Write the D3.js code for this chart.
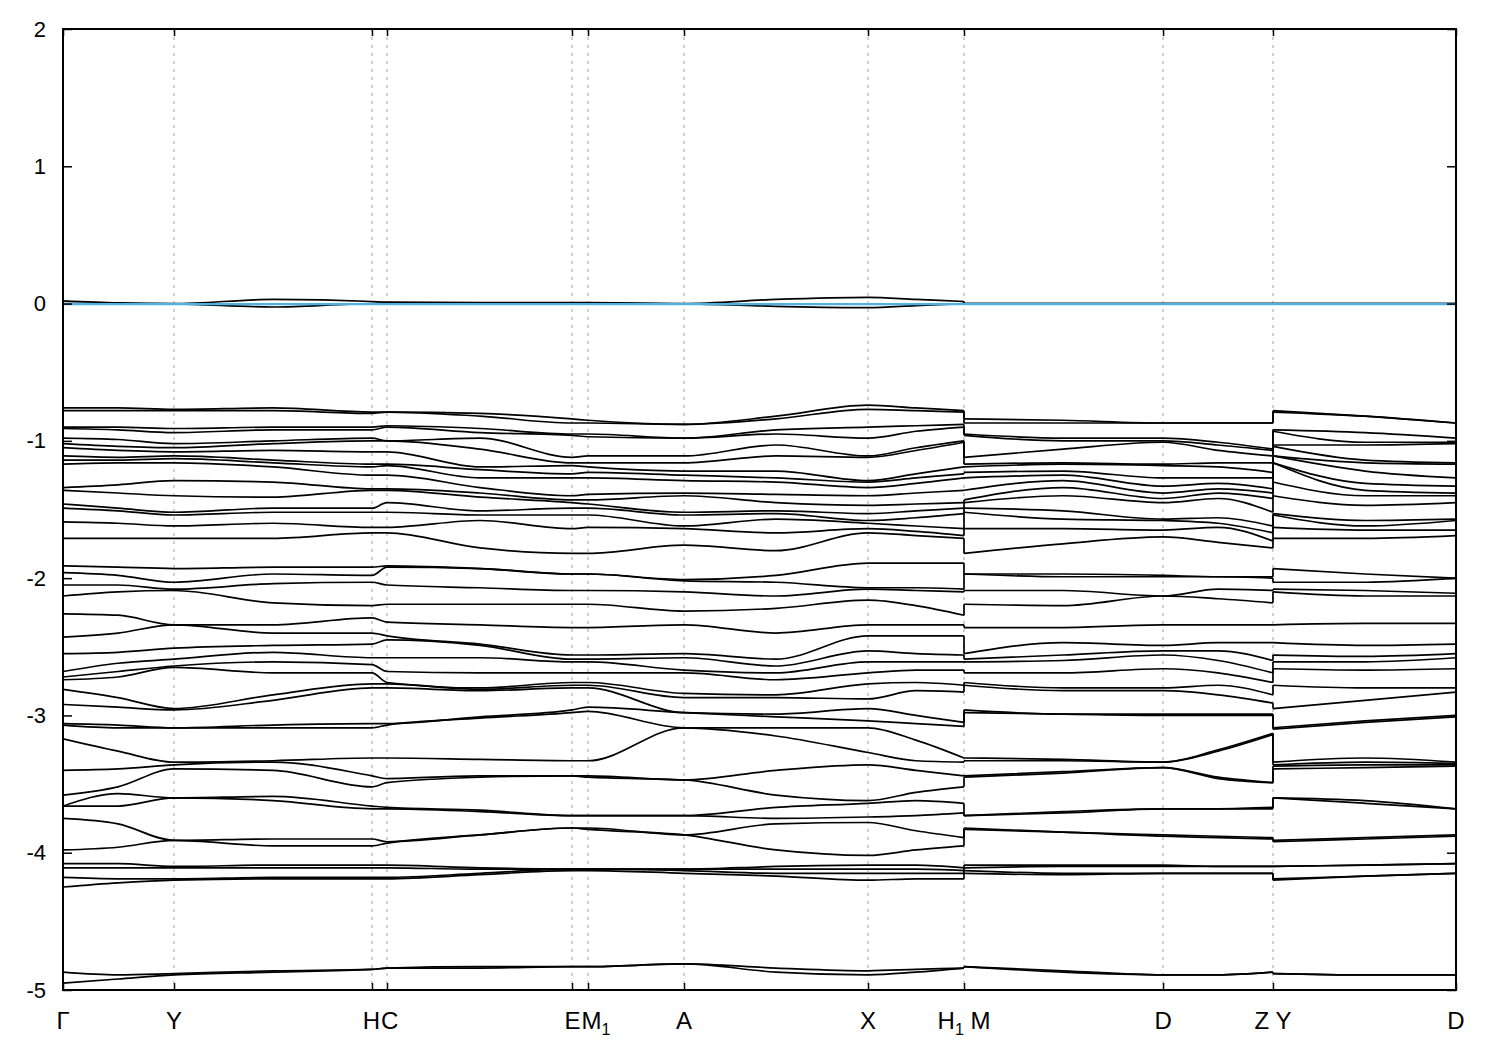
<!DOCTYPE html>
<html><head><meta charset="utf-8">
<script src="https://cdn.jsdelivr.net/npm/d3@7"></script>
<style>
body{margin:0;background:#fff}
svg{display:block}
text{font-family:"Liberation Sans Narrow","Liberation Sans",Arial,sans-serif;fill:#000}
</style>
</head><body>
<svg id="c" width="1500" height="1050"></svg>
<script>
// high-symmetry k-points (path coordinate) and their labels
const kTickPos = [0, 0.0797, 0.2218, 0.2326, 0.3654, 0.3769, 0.4458, 0.5779, 0.6468, 0.7897, 0.8686, 1.0];
const kTickLabels = ["Γ","Y","H","C","E","M_1","A","X","H_1 M","D","Z Y","D"];
// k-path sample positions (22 columns); path is broken after H1 and after Z
const kSample = [0, 0.0395, 0.0797, 0.1508, 0.2218, 0.2326, 0.2994, 0.3654, 0.3769, 0.4458, 0.5118, 0.5779, 0.6123, 0.6468,
                 0.6468, 0.7179, 0.7897, 0.8292, 0.8686,
                 0.8686, 0.9347, 1.0];
const segments = [[0,13],[14,18],[19,21]];
const yTicks = [-5,-4,-3,-2,-1,0,1,2];
const fermiLevel = 0;

// band energies (eV) at each sample column
const eG   = [0.02,0.0,-0.76,-0.78,-0.90,-0.91,-0.98,-1.02,-1.05,-1.11,-1.14,-1.17,-1.34,-1.36,-1.46,-1.49,-1.59,-1.71,-1.91,-1.96,-2.05,-2.13,-2.26,-2.43,-2.55,-2.68,-2.72,-2.74,-2.81,-2.92,-3.06,-3.07,-3.17,-3.40,-3.58,-3.66,-3.66,-3.75,-3.98,-4.08,-4.11,-4.18,-4.25,-4.87,-4.95];
const eGY  = [0.005,0.0,-0.76,-0.78,-0.90,-0.92,-0.99,-1.04,-1.07,-1.12,-1.14,-1.16,-1.32,-1.38,-1.49,-1.51,-1.60,-1.71,-1.92,-1.98,-2.05,-2.10,-2.27,-2.40,-2.54,-2.62,-2.68,-2.72,-2.87,-2.94,-3.07,-3.09,-3.26,-3.39,-3.52,-3.57,-3.66,-3.79,-3.96,-4.08,-4.11,-4.19,-4.22,-4.89,-4.92];
const eY   = [0.0,-0.002,-0.77,-0.78,-0.91,-0.94,-1.02,-1.05,-1.08,-1.11,-1.13,-1.16,-1.29,-1.40,-1.52,-1.54,-1.62,-1.71,-1.93,-2.03,-2.08,-2.09,-2.34,-2.34,-2.51,-2.59,-2.64,-2.65,-2.95,-2.96,-3.09,-3.09,-3.34,-3.36,-3.39,-3.60,-3.60,-3.91,-3.91,-4.10,-4.11,-4.19,-4.20,-4.88,-4.89];
const eYH  = [0.03,-0.025,-0.76,-0.78,-0.90,-0.92,-1.00,-1.02,-1.07,-1.14,-1.16,-1.19,-1.30,-1.41,-1.49,-1.52,-1.60,-1.71,-1.92,-1.97,-2.04,-2.18,-2.34,-2.40,-2.49,-2.54,-2.61,-2.69,-2.85,-2.89,-3.07,-3.09,-3.33,-3.34,-3.40,-3.59,-3.62,-3.90,-3.95,-4.09,-4.11,-4.18,-4.19,-4.86,-4.87];
const eH   = [0.015,0.0,-0.79,-0.80,-0.90,-0.92,-0.98,-1.00,-1.08,-1.17,-1.19,-1.25,-1.35,-1.36,-1.49,-1.52,-1.63,-1.67,-1.92,-1.98,-2.03,-2.20,-2.29,-2.40,-2.48,-2.58,-2.63,-2.69,-2.77,-2.80,-3.06,-3.09,-3.31,-3.44,-3.52,-3.66,-3.68,-3.90,-3.95,-4.09,-4.11,-4.18,-4.19,-4.85,-4.85];
const eC   = [0.01,0.0,-0.79,-0.79,-0.89,-0.90,-1.00,-1.00,-1.08,-1.17,-1.18,-1.25,-1.35,-1.36,-1.45,-1.52,-1.63,-1.67,-1.91,-1.92,-2.05,-2.19,-2.32,-2.42,-2.45,-2.58,-2.68,-2.76,-2.77,-2.80,-3.06,-3.07,-3.31,-3.46,-3.49,-3.67,-3.68,-3.92,-3.93,-4.09,-4.11,-4.18,-4.19,-4.84,-4.84];
const eCE  = [0.007,0.0,-0.80,-0.82,-0.91,-0.94,-0.98,-1.06,-1.19,-1.21,-1.27,-1.34,-1.38,-1.41,-1.51,-1.54,-1.58,-1.78,-1.93,-1.93,-2.07,-2.19,-2.34,-2.48,-2.49,-2.58,-2.69,-2.80,-2.81,-2.82,-3.01,-3.02,-3.32,-3.44,-3.45,-3.69,-3.70,-3.87,-3.87,-4.11,-4.12,-4.15,-4.16,-4.83,-4.84];
const eE   = [0.007,0.0,-0.84,-0.87,-0.95,-0.96,-1.12,-1.16,-1.18,-1.24,-1.27,-1.40,-1.43,-1.45,-1.49,-1.54,-1.64,-1.82,-1.97,-1.97,-2.09,-2.19,-2.36,-2.56,-2.59,-2.61,-2.69,-2.76,-2.78,-2.80,-2.96,-2.98,-3.33,-3.44,-3.44,-3.73,-3.73,-3.82,-3.82,-4.12,-4.12,-4.12,-4.13,-4.83,-4.83];
const eM1  = [0.007,0.0,-0.85,-0.87,-0.95,-0.97,-1.11,-1.16,-1.19,-1.23,-1.27,-1.39,-1.43,-1.46,-1.49,-1.54,-1.63,-1.82,-1.97,-1.97,-2.09,-2.19,-2.36,-2.56,-2.59,-2.61,-2.69,-2.76,-2.78,-2.80,-2.94,-2.97,-3.33,-3.44,-3.45,-3.73,-3.73,-3.82,-3.83,-4.12,-4.12,-4.12,-4.13,-4.83,-4.83];
const eA   = [0.0,-0.002,-0.88,-0.88,-0.98,-0.98,-1.11,-1.16,-1.22,-1.25,-1.29,-1.38,-1.40,-1.52,-1.54,-1.62,-1.64,-1.76,-2.01,-2.02,-2.10,-2.24,-2.34,-2.55,-2.58,-2.67,-2.69,-2.84,-2.87,-2.98,-2.98,-3.09,-3.09,-3.47,-3.47,-3.73,-3.73,-3.87,-3.87,-4.12,-4.12,-4.13,-4.15,-4.81,-4.81];
const eAX  = [0.03,-0.02,-0.82,-0.84,-0.92,-0.95,-1.03,-1.11,-1.22,-1.27,-1.30,-1.39,-1.45,-1.51,-1.53,-1.57,-1.67,-1.80,-1.98,-2.03,-2.13,-2.22,-2.40,-2.59,-2.64,-2.69,-2.74,-2.85,-2.87,-2.99,-3.01,-3.09,-3.15,-3.40,-3.58,-3.67,-3.75,-3.79,-3.98,-4.10,-4.12,-4.15,-4.17,-4.84,-4.87];
const eX   = [0.045,-0.03,-0.74,-0.77,-0.90,-0.98,-1.11,-1.12,-1.29,-1.30,-1.34,-1.40,-1.47,-1.53,-1.58,-1.60,-1.64,-1.67,-1.89,-2.07,-2.08,-2.16,-2.34,-2.42,-2.53,-2.61,-2.69,-2.77,-2.88,-2.95,-3.04,-3.09,-3.27,-3.36,-3.62,-3.64,-3.74,-3.78,-4.02,-4.09,-4.12,-4.15,-4.20,-4.86,-4.89];
const eXH1 = [0.03,-0.015,-0.76,-0.78,-0.89,-0.93,-1.05,-1.07,-1.24,-1.27,-1.31,-1.38,-1.46,-1.51,-1.56,-1.62,-1.66,-1.69,-1.89,-2.07,-2.09,-2.20,-2.34,-2.42,-2.55,-2.61,-2.67,-2.76,-2.82,-3.00,-3.06,-3.18,-3.33,-3.40,-3.56,-3.62,-3.73,-3.84,-3.98,-4.09,-4.12,-4.15,-4.19,-4.85,-4.87];
const eH1  = [0.015,0.0,-0.78,-0.79,-0.88,-0.90,-1.00,-1.01,-1.19,-1.24,-1.27,-1.36,-1.45,-1.49,-1.53,-1.64,-1.69,-1.71,-1.89,-2.08,-2.10,-2.27,-2.34,-2.42,-2.56,-2.61,-2.67,-2.78,-2.83,-3.05,-3.08,-3.31,-3.34,-3.44,-3.52,-3.64,-3.71,-3.89,-3.95,-4.11,-4.13,-4.15,-4.19,-4.84,-4.84];
const eM   = [0.0,0.0,-0.84,-0.87,-0.95,-0.96,-1.12,-1.17,-1.19,-1.23,-1.27,-1.36,-1.43,-1.45,-1.49,-1.52,-1.64,-1.82,-1.97,-1.97,-2.09,-2.19,-2.36,-2.55,-2.59,-2.61,-2.69,-2.76,-2.78,-2.96,-2.98,-3.31,-3.33,-3.44,-3.45,-3.73,-3.73,-3.82,-3.83,-4.09,-4.11,-4.13,-4.15,-4.83,-4.83];
const eMD  = [0.0,0.0,-0.85,-0.87,-0.98,-1.00,-1.06,-1.16,-1.17,-1.22,-1.25,-1.29,-1.34,-1.40,-1.51,-1.57,-1.64,-1.75,-1.97,-1.99,-2.09,-2.20,-2.36,-2.47,-2.56,-2.60,-2.69,-2.80,-2.82,-2.99,-2.99,-3.32,-3.33,-3.41,-3.42,-3.70,-3.71,-3.85,-3.85,-4.09,-4.10,-4.15,-4.16,-4.86,-4.87];
const eD   = [0.0,0.0,-0.87,-0.87,-0.98,-1.00,-1.01,-1.17,-1.18,-1.27,-1.33,-1.38,-1.42,-1.45,-1.57,-1.58,-1.65,-1.70,-1.98,-1.99,-2.13,-2.13,-2.34,-2.49,-2.53,-2.56,-2.66,-2.80,-2.82,-2.99,-3.00,-3.34,-3.34,-3.38,-3.38,-3.68,-3.68,-3.87,-3.88,-4.09,-4.10,-4.15,-4.15,-4.89,-4.89];
const eDZ  = [0.0,0.0,-0.87,-0.87,-1.01,-1.03,-1.07,-1.16,-1.19,-1.27,-1.31,-1.35,-1.38,-1.42,-1.56,-1.60,-1.63,-1.74,-1.99,-1.99,-2.08,-2.15,-2.34,-2.47,-2.53,-2.60,-2.69,-2.78,-2.85,-2.99,-3.00,-3.25,-3.26,-3.45,-3.46,-3.68,-3.68,-3.88,-3.89,-4.10,-4.10,-4.15,-4.15,-4.89,-4.89];
const eZ   = [0.0,0.0,-0.87,-0.87,-1.06,-1.07,-1.11,-1.16,-1.23,-1.27,-1.35,-1.38,-1.42,-1.52,-1.62,-1.67,-1.73,-1.78,-1.99,-2.00,-2.09,-2.18,-2.34,-2.47,-2.60,-2.69,-2.76,-2.85,-2.91,-2.99,-3.00,-3.13,-3.14,-3.49,-3.49,-3.67,-3.68,-3.89,-3.90,-4.10,-4.10,-4.15,-4.15,-4.87,-4.87];
const eY2  = [0.0,0.0,-0.78,-0.79,-0.92,-0.93,-1.03,-1.04,-1.11,-1.11,-1.16,-1.16,-1.30,-1.40,-1.53,-1.54,-1.63,-1.71,-1.93,-2.03,-2.08,-2.10,-2.34,-2.47,-2.56,-2.61,-2.66,-2.78,-2.95,-3.09,-3.10,-3.34,-3.36,-3.37,-3.39,-3.60,-3.60,-3.91,-3.92,-4.10,-4.10,-4.19,-4.20,-4.88,-4.88];
const eYD  = [0.0,0.0,-0.82,-0.82,-0.94,-1.01,-1.03,-1.14,-1.16,-1.22,-1.31,-1.36,-1.40,-1.47,-1.58,-1.62,-1.65,-1.71,-1.97,-2.03,-2.09,-2.13,-2.33,-2.49,-2.57,-2.61,-2.67,-2.80,-2.89,-3.04,-3.05,-3.31,-3.34,-3.36,-3.38,-3.62,-3.64,-3.89,-3.90,-4.09,-4.09,-4.17,-4.17,-4.89,-4.89];
const eD2  = [0.0,0.0,-0.87,-0.87,-0.98,-1.01,-1.02,-1.16,-1.17,-1.27,-1.33,-1.38,-1.40,-1.45,-1.57,-1.58,-1.65,-1.69,-2.00,-2.00,-2.11,-2.13,-2.33,-2.48,-2.55,-2.58,-2.66,-2.80,-2.83,-3.00,-3.01,-3.34,-3.35,-3.36,-3.37,-3.68,-3.68,-3.87,-3.88,-4.08,-4.08,-4.15,-4.15,-4.89,-4.89];

const columns = [eG,eGY,eY,eYH,eH,eC,eCE,eE,eM1,eA,eAX,eX,eXH1,eH1, eM,eMD,eD,eDZ,eZ, eY2,eYD,eD2];

// ---- layout ----
const L = 63, R = 1456, T = 29, B = 990;
const svg = d3.select("#c");
const x = d3.scaleLinear().domain([0,1]).range([L,R]);
const y = d3.scaleLinear().domain([-5,2]).range([B,T]);

// each column sorted high -> low; band b = b-th value of every column
const sorted = columns.map(c => c.slice().sort((a,b)=>b-a));
const nBands = d3.min(sorted, c => c.length);

svg.append("defs").append("clipPath").attr("id","plot")
  .append("rect").attr("x",L).attr("y",T).attr("width",R-L).attr("height",B-T);

// vertical dotted lines at k-points
svg.append("g").selectAll("line")
  .data(kTickPos.filter(k => k>0 && k<1))
  .join("line")
  .attr("x1", d=>x(d)).attr("x2", d=>x(d))
  .attr("y1", T).attr("y2", B)
  .attr("stroke","#a0a0a0").attr("stroke-width",1).attr("stroke-dasharray","3,5");

const gBands = svg.append("g").attr("clip-path","url(#plot)");
const smooth = d3.line().x(d=>x(d[0])).y(d=>y(d[1])).curve(d3.curveMonotoneX);
const straight = d3.line().x(d=>x(d[0])).y(d=>y(d[1]));

for (let b=0; b<nBands; b++){
  segments.forEach(([s,e]) => {
    const pts = d3.range(s, e+1).map(i => [kSample[i], sorted[i][b]]);
    gBands.append("path").attr("d", smooth(pts))
      .attr("fill","none").attr("stroke","#000").attr("stroke-width",1.7).attr("stroke-linejoin","round");
  });
  // vertical jumps at the path breaks
  [[13,14],[18,19]].forEach(([i,j]) => {
    gBands.append("path").attr("d", straight([[kSample[i], sorted[i][b]],[kSample[j], sorted[j][b]]]))
      .attr("fill","none").attr("stroke","#000").attr("stroke-width",1.7);
  });
}

// Fermi level
svg.append("line").attr("x1",L).attr("x2",R).attr("y1",y(fermiLevel)+0.5).attr("y2",y(fermiLevel)+0.5)
  .attr("stroke","#4fb0e6").attr("stroke-width",2.2);

// axes (inward ticks)
const fmt = d => String(d);
const gl = svg.append("g").attr("transform",`translate(${L},0)`)
  .call(d3.axisLeft(y).tickValues(yTicks).tickSize(-9).tickPadding(17).tickFormat(fmt));
const gr = svg.append("g").attr("transform",`translate(${R},0)`)
  .call(d3.axisRight(y).tickValues(yTicks).tickSize(-9).tickFormat(""));
const gb = svg.append("g").attr("transform",`translate(0,${B})`)
  .call(d3.axisBottom(x).tickValues(kTickPos).tickSize(-7).tickFormat(""));
const gt = svg.append("g").attr("transform",`translate(0,${T})`)
  .call(d3.axisTop(x).tickValues(kTickPos).tickSize(-7).tickFormat(""));
[gl,gr,gb,gt].forEach(g => {
  g.select(".domain").remove();
  g.selectAll(".tick line").attr("stroke","#000").attr("stroke-width",1.5);
});
gl.attr("font-family",null).attr("font-size",null);
gl.selectAll(".tick text").attr("font-size",22).attr("fill","#000");

// frame
svg.append("rect").attr("x",L).attr("y",T).attr("width",R-L).attr("height",B-T)
  .attr("fill","none").attr("stroke","#000").attr("stroke-width",2);

// k-point labels (subscripts written as _1); neighbouring labels H|C and E|M1 are set side by side
const gLab = svg.append("g");
kTickPos.forEach((k,i) => {
  let anchor = "middle", dx = 0;
  if (i === 2 || i === 4) { anchor = "end"; dx = (kTickPos[i+1]-k)/2*(R-L) + 0.5; }
  if (i === 3 || i === 5) { anchor = "start"; dx = -(k-kTickPos[i-1])/2*(R-L) + 1.5; }
  const t = gLab.append("text").attr("x", x(k) + dx).attr("y", 1029)
    .attr("text-anchor",anchor).attr("font-size",24);
  const parts = kTickLabels[i].split(/_(\d)/);
  let pending = 0;
  parts.forEach((p,j) => {
    if (p === "") return;
    if (j % 2 === 1) {
      t.append("tspan").attr("font-size",16).attr("dy",6).text(p);
      pending = -6;
    } else {
      t.append("tspan").attr("dy",pending).text(p);
      pending = 0;
    }
  });
});
</script>
</body></html>
